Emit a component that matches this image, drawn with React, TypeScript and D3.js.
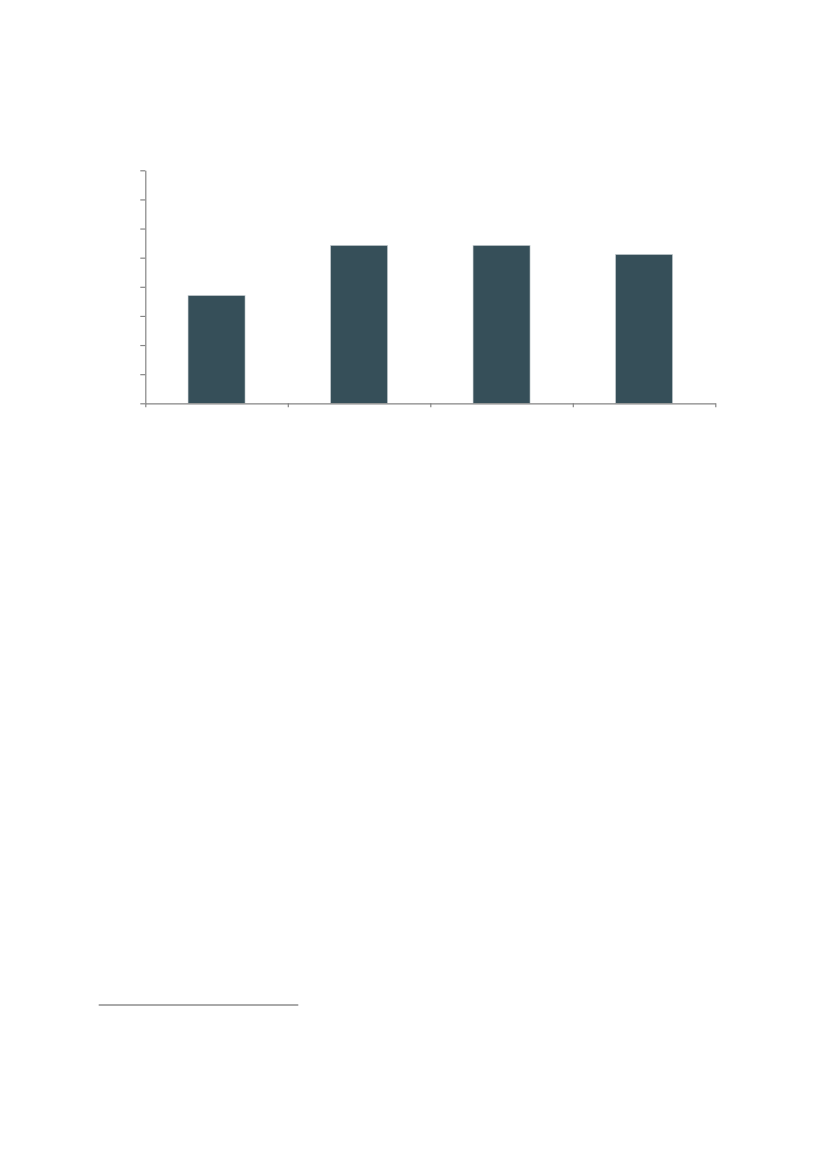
import React, { useEffect, useRef } from 'react';
import * as d3 from 'd3';

// no category labels are printed in the reference, so these names stay hidden
const categories = ['A', 'B', 'C', 'D'];
const values = [37, 54.2, 54.2, 51.1];
const yTicks = [0, 10, 20, 30, 40, 50, 60, 70, 80];

export default function App() {
  const ref = useRef<SVGSVGElement>(null);

  useEffect(() => {
    const width = 827;
    const height = 1168;

    const margin = {
      top: 170.3,
      left: 145.3,
      right: 715.3,
      bottom: 403.3,
    };

    const svg = d3.select(ref.current);
    svg.selectAll('*').remove();

    const xScale = d3
      .scaleBand()
      .domain(categories)
      .range([margin.left, margin.right])
      .paddingInner(0.6)
      .paddingOuter(0.3);

    const yScale = d3
      .scaleLinear()
      .domain([0, 80])
      .range([margin.bottom, margin.top]);

    svg
      .selectAll('rect.bar')
      .data(values)
      .enter()
      .append('rect')
      .attr('class', 'bar')
      .attr('x', (_, i) => xScale(categories[i]) as number)
      .attr('y', (d) => yScale(d))
      .attr('width', xScale.bandwidth())
      .attr('height', (d) => yScale(0) - yScale(d))
      .attr('fill', '#364f59')
      .attr('stroke', '#c9d0d3')
      .attr('stroke-width', 0.6);

    const yAxis = d3
      .axisLeft(yScale)
      .tickValues(yTicks)
      .tickSize(5)
      .tickSizeOuter(0)
      .tickFormat(() => '');

    const gy = svg
      .append('g')
      .attr('transform', `translate(${margin.left}, 0)`)
      .call(yAxis);

    // x ticks sit on the band edges, not their centres
    const edgeScale = d3
      .scaleLinear()
      .domain([0, categories.length])
      .range([margin.left, margin.right]);

    const xAxis = d3
      .axisBottom(edgeScale)
      .tickValues(d3.range(categories.length + 1))
      .tickSize(4)
      .tickSizeOuter(0)
      .tickFormat(() => '');

    const gx = svg
      .append('g')
      .attr('transform', `translate(0, ${margin.bottom})`)
      .call(xAxis);

    [gx, gy].forEach((g) => {
      g.select('.domain').attr('stroke', '#858585').attr('stroke-width', 1.2);
      g.selectAll('.tick line').attr('stroke', '#858585').attr('stroke-width', 1.2);
    });

    // footnote separator
    svg
      .append('line')
      .attr('x1', 98.7)
      .attr('x2', 298.3)
      .attr('y1', 1005)
      .attr('y2', 1005)
      .attr('stroke', '#555')
      .attr('stroke-width', 1);

    svg.attr('width', width).attr('height', height);
  }, []);

  return (
    <svg
      ref={ref}
      style={{ position: 'absolute', left: 0, top: 0, background: '#fff' }}
    ></svg>
  );
}
